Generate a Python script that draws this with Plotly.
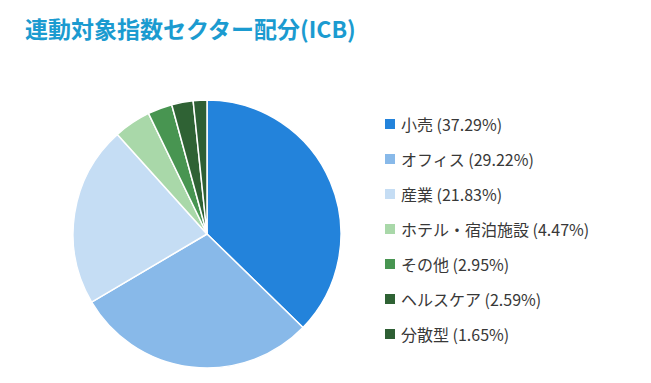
import plotly.graph_objects as go

labels = ["小売", "オフィス", "産業", "ホテル・宿泊施設", "その他", "ヘルスケア", "分散型"]
values = [37.29, 29.22, 21.83, 4.47, 2.95, 2.59, 1.65]
colors = ["#2383DB", "#88B9E9", "#C5DDF4", "#A9D8A9", "#489551", "#2F6234", "#2E5F34"]
title = "連動対象指数セクター配分(ICB)"

W, H = 651, 383
cx, cy, r = 207, 234, 134

fig = go.Figure()
fig.add_trace(go.Pie(
    labels=labels, values=values, sort=False, direction="clockwise", rotation=0,
    marker=dict(colors=colors, line=dict(color="white", width=1.5)),
    textinfo="none", hoverinfo="label+percent", showlegend=False,
    domain=dict(x=[(cx - r) / W, (cx + r) / W], y=[(H - cy - r) / H, (H - cy + r) / H]),
))

# legend (manual)
lx, ly0, dy, sq = 385, 124, 35, 10
for i, (lab, val, col) in enumerate(zip(labels, values, colors)):
    y = ly0 + i * dy
    fig.add_shape(type="rect", xref="paper", yref="paper",
                  x0=lx / W, x1=(lx + sq) / W, y0=(H - y - sq / 2) / H, y1=(H - y + sq / 2) / H,
                  fillcolor=col, line=dict(width=0))
    fig.add_annotation(xref="paper", yref="paper", x=(lx + sq + 4) / W, y=(H - y) / H,
                       xanchor="left", yanchor="middle", showarrow=False,
                       text=f"{lab} ({val:.2f}%)",
                       font=dict(size=16, color="#383838", family="Noto Sans CJK JP"))

fig.add_annotation(xref="paper", yref="paper", x=23 / W, y=(H - 28) / H,
                   xanchor="left", yanchor="middle", showarrow=False,
                   text=f"<b>{title}</b>",
                   font=dict(size=23, color="#1B9BD0", family="Noto Sans CJK JP"))

fig.update_layout(width=W, height=H, margin=dict(l=0, r=0, t=0, b=0),
                  paper_bgcolor="white", plot_bgcolor="white")
fig.write_html("out.html", config={"displayModeBar": False},
               post_script="document.body.style.margin='0';")
